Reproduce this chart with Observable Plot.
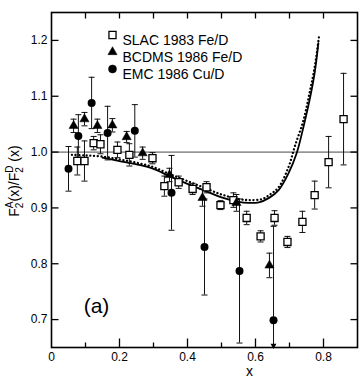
<!DOCTYPE html>
<html><head><meta charset="utf-8">
<script src="https://cdn.jsdelivr.net/npm/d3@7"></script>
<script src="https://cdn.jsdelivr.net/npm/@observablehq/plot@0.6"></script>
<style>body{margin:0;background:#fff}svg{display:block}</style>
</head><body><div id="chart"></div>
<script>
// ---- data ----
const slacX   = [0.076,0.097,0.124,0.144,0.194,0.229,0.297,0.332,0.374,0.415,0.456,0.497,0.535,0.574,0.615,0.656,0.694,0.738,0.774,0.815,0.859];
const slacY   = [0.984,0.984,1.016,1.014,1.004,0.995,0.989,0.939,0.946,0.934,0.937,0.905,0.914,0.882,0.849,0.882,0.839,0.875,0.923,0.982,1.059];
const slacErr = [0.025,0.036,0.012,0.017,0.014,0.020,0.010,0.018,0.011,0.010,0.010,0.008,0.013,0.012,0.010,0.013,0.010,0.019,0.025,0.046,0.082];

const bcdmsX   = [0.065,0.097,0.135,0.179,0.221,0.268,0.347,0.444,0.544,0.641];
const bcdmsY   = [1.047,1.059,1.047,1.048,1.027,0.998,0.959,0.918,0.909,0.797];
const bcdmsErr = [0.012,0.012,0.012,0.012,0.010,0.011,0.012,0.015,0.015,0.022];

const emcX   = [0.050,0.079,0.118,0.165,0.245,0.353,0.450,0.553,0.653];
const emcY   = [0.970,1.029,1.088,1.034,1.038,0.927,0.830,0.787,0.699];
const emcErr = [0.040,0.038,0.046,0.048,0.047,0.067,0.086,0.129,0.168];

const solidX = [0.15,0.20,0.25,0.30,0.35,0.40,0.45,0.50,0.55,0.58,0.61,0.64,0.668,0.697,0.721,0.741,0.759,0.774,0.785];
const solidY = [0.990,0.984,0.978,0.970,0.956,0.943,0.931,0.919,0.911,0.909,0.910,0.918,0.932,0.962,0.998,1.045,1.093,1.142,1.195];

const dottedX = [0.06,0.10,0.15,0.20,0.25,0.30,0.35,0.40,0.45,0.50,0.55,0.58,0.62,0.645,0.668,0.697,0.715,0.741,0.759,0.774,0.787];
const dottedY = [0.995,0.994,0.992,0.987,0.981,0.973,0.960,0.948,0.936,0.924,0.916,0.914,0.916,0.925,0.937,0.973,1.009,1.057,1.106,1.152,1.208];

const xDomain = [0, 0.9];
const yDomain = [0.65, 1.25];
const xLabelTicks = [0, 0.2, 0.4, 0.6, 0.8];
const xMinorTicks = [0.1, 0.3, 0.5, 0.7];
const xTopTicks = [0.1, 0.2, 0.3, 0.4, 0.5, 0.6, 0.7, 0.8];
const yTicks = [0.7, 0.8, 0.9, 1.0, 1.1, 1.2];
const legendLabels = ["SLAC 1983 Fe/D", "BCDMS 1986 Fe/D", "EMC 1986 Cu/D"];
const panelLabel = "(a)";
const xTitle = "x";

// ---- build tables ----
const mk = (X, Y, E) => X.map((x, i) => ({x, y: Y[i], e: E[i]}));
const slac = mk(slacX, slacY, slacErr);
const bcdms = mk(bcdmsX, bcdmsY, bcdmsErr);
const emc = mk(emcX, emcY, emcErr);
const solid = solidX.map((x, i) => ({x, y: solidY[i]}));
const dotted = dottedX.map((x, i) => ({x, y: dottedY[i]}));
const allErr = [...slac, ...bcdms, ...emc];
const caps = [];
allErr.forEach(d => {
  if (d.y + d.e <= yDomain[1]) caps.push({x: d.x, y: d.y + d.e});
  if (d.y - d.e >= yDomain[0]) caps.push({x: d.x, y: d.y - d.e});
});
const clippedLow = allErr.filter(d => d.y - d.e < yDomain[0]);

const capSym = {draw(ctx){ ctx.moveTo(-3, 0); ctx.lineTo(3, 0); }};
const tickSym = (dx, dy) => ({draw(ctx){ ctx.moveTo(0, 0); ctx.lineTo(dx, dy); }});

const font = "Liberation Sans, Arial, Helvetica, sans-serif";
const legendSymbols = ["square", "triangle", "circle"];
const legendFill = ["white", "black", "black"];
const legendR = [4, 3.4, 4];

const marks = [
  Plot.ruleY([1], {stroke: "#333", strokeWidth: 0.9}),
  Plot.line(dotted, {x: "x", y: "y", curve: "catmull-rom", stroke: "black", strokeWidth: 2.3, strokeDasharray: "0.1,3.6", strokeLinecap: "round"}),
  Plot.line(solid, {x: "x", y: "y", curve: "catmull-rom", stroke: "black", strokeWidth: 1.8}),
  Plot.ruleX(allErr, {x: "x", y1: d => Math.max(d.y - d.e, yDomain[0]), y2: d => d.y + d.e, stroke: "#111", strokeWidth: 1}),
  Plot.dot(caps, {x: "x", y: "y", symbol: capSym, stroke: "#111", strokeWidth: 1, fill: "none"}),
  Plot.dot(clippedLow, {x: "x", frameAnchor: "bottom", dy: -2, symbol: "triangle", rotate: 180, r: 2.2, fill: "black", stroke: "none"}),
  Plot.dot(slac, {x: "x", y: "y", symbol: "square", r: 4, fill: "white", stroke: "black", strokeWidth: 1.3}),
  Plot.dot(bcdms, {x: "x", y: "y", symbol: "triangle", r: 3.4, fill: "black", stroke: "black", strokeWidth: 0.5}),
  Plot.dot(emc, {x: "x", y: "y", symbol: "circle", r: 4, fill: "black", stroke: "none"}),
  // inward ticks
  Plot.dot(xLabelTicks.slice(1), {x: d => d, frameAnchor: "bottom", symbol: tickSym(0, -9), stroke: "black", strokeWidth: 1.3}),
  Plot.dot(xMinorTicks, {x: d => d, frameAnchor: "bottom", symbol: tickSym(0, -5), stroke: "black", strokeWidth: 1.3}),
  Plot.dot(xTopTicks, {x: d => d, frameAnchor: "top", symbol: tickSym(0, 6), stroke: "black", strokeWidth: 1.3}),
  Plot.dot(yTicks, {y: d => d, frameAnchor: "left", symbol: tickSym(7, 0), stroke: "black", strokeWidth: 1.3}),
  Plot.dot(yTicks, {y: d => d, frameAnchor: "right", symbol: tickSym(-7, 0), stroke: "black", strokeWidth: 1.3}),
  Plot.frame({stroke: "black", strokeWidth: 1.6}),
  Plot.axisX({ticks: xLabelTicks, tickSize: 0, tickPadding: 5, tickFormat: d => d === 0 ? "0" : d.toFixed(1), fontSize: 12, label: null}),
  Plot.axisY({ticks: yTicks, tickSize: 0, tickPadding: 4, tickFormat: d => d.toFixed(1), fontSize: 12, label: null}),
  Plot.text([panelLabel], {text: d => d, frameAnchor: "bottom-left", dx: 45, dy: -35, fontSize: 21, textAnchor: "middle"}),
  Plot.text([xTitle], {text: d => d, frameAnchor: "bottom-left", dx: 198, dy: 28, fontSize: 14, textAnchor: "middle"})
];
legendLabels.forEach((lab, i) => {
  const dy = 22.5 + i * 17;
  marks.push(Plot.dot([lab], {frameAnchor: "top-left", dx: 61, dy, symbol: legendSymbols[i], r: legendR[i], fill: legendFill[i], stroke: "black", strokeWidth: i === 0 ? 1.3 : 0.5}));
  marks.push(Plot.text([lab], {text: d => d, frameAnchor: "top-left", dx: 71, dy, textAnchor: "start", fontSize: 14, style: {letterSpacing: "0.6px"}}));
});

const chart = Plot.plot({
  width: 362, height: 382,
  marginTop: 12, marginRight: 5, marginBottom: 35, marginLeft: 51,
  x: {domain: xDomain, label: null},
  y: {domain: yDomain, label: null},
  style: {fontFamily: font, fontSize: "12px", color: "black", background: "white"},
  marks
});

// y-axis title with sub/superscripts
const svg = d3.select(chart);
const t = svg.append("text")
  .attr("transform", "translate(18.5,181) rotate(-90)")
  .attr("text-anchor", "middle")
  .attr("font-family", font).attr("font-size", 14).attr("fill", "black");
t.append("tspan").text("F");
t.append("tspan").attr("font-size", 10).attr("dy", 4).text("2");
t.append("tspan").attr("font-size", 10).attr("dx", -5.6).attr("dy", -10).text("A");
t.append("tspan").attr("dy", 6).text("(x)/F");
t.append("tspan").attr("font-size", 10).attr("dy", 4).text("2");
t.append("tspan").attr("font-size", 10).attr("dx", -5.6).attr("dy", -10).text("D");
t.append("tspan").attr("dy", 6).text(" (x)");

document.getElementById("chart").appendChild(chart);
</script>
</body></html>
